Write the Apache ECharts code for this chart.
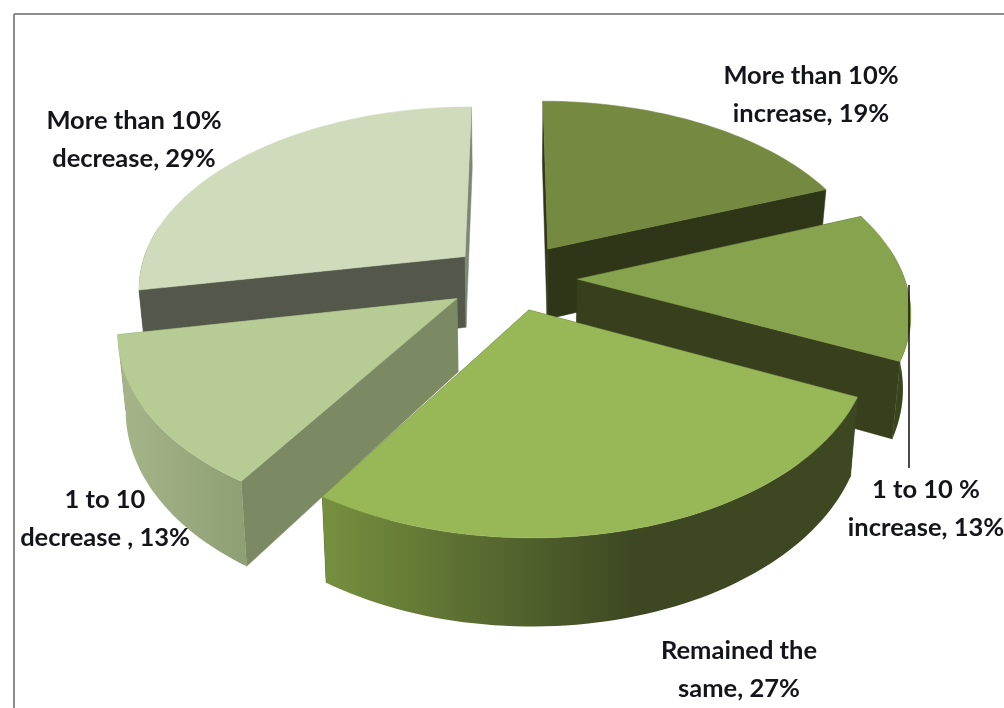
<!DOCTYPE html>
<html>
<head>
<meta charset="utf-8">
<style>html,body{margin:0;padding:0;background:#fff}#c{width:1004px;height:708px;filter:blur(0.5px)}</style>
<script src="https://cdn.jsdelivr.net/npm/echarts@6/dist/echarts.min.js"></script>
</head>
<body>
<div id="c"></div>
<script>
// ---- data (percent), clockwise from 12 o'clock ----
const categories = ["More than 10%\nincrease", "1 to 10 %\nincrease", "Remained the\nsame", "1 to 10\ndecrease ", "More than 10%\ndecrease"];
const values = [19, 13, 27, 13, 29];

// ---- styles ----
const topColors = ["#758A40", "#87A34D", "#98B858", "#B7CB94", "#D0DBBC"];
const startWallColors = ["#2F3618", "#373F1C", "#3D4822", "#7C8A63", "#53584A"];
const endWallColors = ["#2F3618", "#373F1C", "#3D4822", "#7C8A63", "#7E8573"];
const outerLeftColors = ["#2F3618", "#3B451E", "#76903F", "#A6B58A", "#53584A"];
const outerRightColors = ["#2F3618", "#39431C", "#3D4822", "#8F9F74", "#53584A"];
const outerMidStop = [1, 1, 0.58, 1, 1];
const paintOrder = [4, 0, 1, 3, 2];

// ---- layout ----
const labelCentres = [[811, 95], [926, 509], [739, 670], [105, 519], [134, 140]];
const explodeBy = [0.2, 0.2, 0.18, 0.2, 0.19];
const cam = { cx: 512, cy: 278, A: 327, B: 180, k: 0.16, depth: 72, converge: 0.02 };

const rad = d => d * Math.PI / 180;

function project(X, Z) {
  const s = 1 / (1 - cam.k * Z);
  return { x: cam.cx + cam.A * X * s, y: cam.cy + cam.B * Z * s, s };
}
function upper(X, Z) { const p = project(X, Z); return [p.x, p.y]; }
function lower(X, Z) {
  const p = project(X, Z);
  return [cam.cx + (p.x - cam.cx) * (1 - cam.converge), p.y + cam.depth * p.s];
}

function renderSlice(params, api) {
  const i = params.dataIndex;
  const v = api.value(0);
  let before = 0;
  for (let j = 0; j < i; j++) before += values[j];
  // labels are rounded percentages and add up to 101, so the last slice closes the circle
  const a0 = before / 100 * 360, a1 = Math.min(360, (before + v) / 100 * 360);
  const mid = rad((a0 + a1) / 2);
  const ox = Math.sin(mid) * explodeBy[i], oz = -Math.cos(mid) * explodeBy[i];
  const rim = a => [ox + Math.sin(rad(a)), oz - Math.cos(rad(a))];
  const range = (from, to) => {
    const out = [], n = Math.max(2, Math.ceil((to - from) / 1.5));
    for (let t = 0; t <= n; t++) out.push(rim(from + (to - from) * t / n));
    return out;
  };
  const base = paintOrder.indexOf(i) * 10 + 10;
  const poly = (points, fill, z) => ({
    type: 'polygon', z2: base + z, shape: { points },
    style: { fill, stroke: typeof fill === 'string' ? fill : null, lineWidth: 0.5 }
  });
  const children = [];
  const apex = [ox, oz];
  const wall = (p, color) => poly([upper(...apex), upper(...p), lower(...p), lower(...apex)], color, 1);
  children.push(wall(rim(a0), startWallColors[i]));
  children.push(wall(rim(a1), endWallColors[i]));

  const f0 = Math.max(a0, 80), f1 = Math.min(a1, 280);
  if (f1 > f0) {
    const arc = range(f0, f1);
    const pts = arc.map(p => upper(...p)).concat(arc.slice().reverse().map(p => lower(...p)));
    const fill = {
      type: 'linear', x: 0, y: 0, x2: 1, y2: 0,
      colorStops: [
        { offset: 0, color: outerLeftColors[i] },
        { offset: outerMidStop[i], color: outerRightColors[i] },
        { offset: 1, color: outerRightColors[i] }
      ]
    };
    children.push(poly(pts, fill, 2));
  }
  const surface = [upper(...apex)].concat(range(a0, a1).map(p => upper(...p)));
  children.push(poly(surface, topColors[i], 3));

  children.push({
    type: 'text', z2: 100,
    x: labelCentres[i][0], y: labelCentres[i][1],
    style: {
      text: categories[i] + ", " + v + "%",
      fill: "#14141c", font: "bold 25.5px Lato, 'Open Sans', sans-serif",
      align: 'center', verticalAlign: 'middle', lineHeight: 38
    }
  });
  return { type: 'group', children };
}

const chart = echarts.init(document.getElementById('c'), null, { renderer: 'canvas' });
chart.setOption({
  animation: false,
  backgroundColor: '#ffffff',
  graphic: [
    { type: 'line', z: 20, shape: { x1: 14, y1: 14, x2: 1004, y2: 14 }, style: { stroke: '#8c8c8c', lineWidth: 2 } },
    { type: 'line', z: 20, shape: { x1: 14, y1: 14, x2: 14, y2: 708 }, style: { stroke: '#8c8c8c', lineWidth: 2 } },
    { type: 'line', z: 20, shape: { x1: 909, y1: 285, x2: 909, y2: 468 }, style: { stroke: '#111111', lineWidth: 1.5 } }
  ],
  series: [{
    type: 'custom',
    coordinateSystem: 'none',
    renderItem: renderSlice,
    data: values.map((v, i) => ({ name: categories[i], value: [v] }))
  }]
});
</script>
</body>
</html>
